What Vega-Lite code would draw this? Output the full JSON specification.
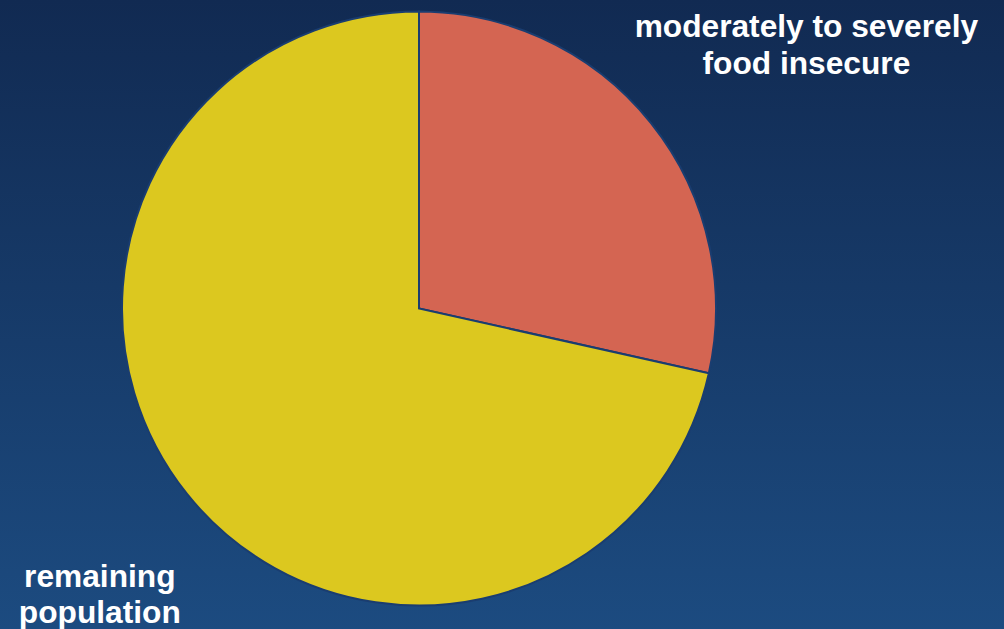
{
  "$schema": "https://vega.github.io/schema/vega-lite/v6.json",
  "width": 1004,
  "height": 629,
  "autosize": {"type": "none"},
  "padding": 0,
  "background": "#163a68",
  "config": {"view": {"stroke": null}},
  "data": {"values": [
    {"category": "moderately to severely food insecure", "label": "moderately to severely\nfood insecure", "value": 28.5},
    {"category": "remaining population", "label": "remaining\npopulation", "value": 71.5}
  ]},
  "layer": [
    {
      "data": {"values": [{"bg": 1}]},
      "mark": {"type": "rect", "color": {"gradient": "linear", "x1": 0, "y1": 0, "x2": 0, "y2": 1, "stops": [{"offset": 0, "color": "#112a52"}, {"offset": 1, "color": "#1c4b80"}]}},
      "encoding": {}
    },
    {
      "mark": {"type": "arc", "radius": 297, "stroke": "#1a3d70", "strokeWidth": 2, "xOffset": -83, "yOffset": -6},
      "encoding": {
        "theta": {"field": "value", "type": "quantitative", "stack": true},
        "order": {"field": "value", "type": "quantitative", "sort": "ascending"},
        "color": {"field": "category", "type": "nominal", "legend": null,
          "scale": {"domain": ["moderately to severely food insecure", "remaining population"], "range": ["#d46552", "#dcc81f"]}}
      }
    },
    {
      "mark": {"type": "text", "radius": 440, "dx": 44, "dy": -6, "xOffset": -83, "yOffset": -6, "font": "Liberation Sans", "fontWeight": "bold", "fontSize": 31.7, "lineHeight": 37, "lineBreak": "\n", "align": "center", "baseline": "middle", "color": "white"},
      "encoding": {
        "theta": {"field": "value", "type": "quantitative", "stack": true},
        "order": {"field": "value", "type": "quantitative", "sort": "ascending"},
        "text": {"condition": {"test": "datum.category == 'moderately to severely food insecure'", "field": "label"}, "value": ""}
      }
    },
    {
      "mark": {"type": "text", "radius": 400, "dx": -7, "dy": 18, "xOffset": -83, "yOffset": -6, "font": "Liberation Sans", "fontWeight": "bold", "fontSize": 31.7, "lineHeight": 36, "lineBreak": "\n", "align": "center", "baseline": "middle", "color": "white"},
      "encoding": {
        "theta": {"field": "value", "type": "quantitative", "stack": true},
        "order": {"field": "value", "type": "quantitative", "sort": "ascending"},
        "text": {"condition": {"test": "datum.category == 'remaining population'", "field": "label"}, "value": ""}
      }
    }
  ]
}
